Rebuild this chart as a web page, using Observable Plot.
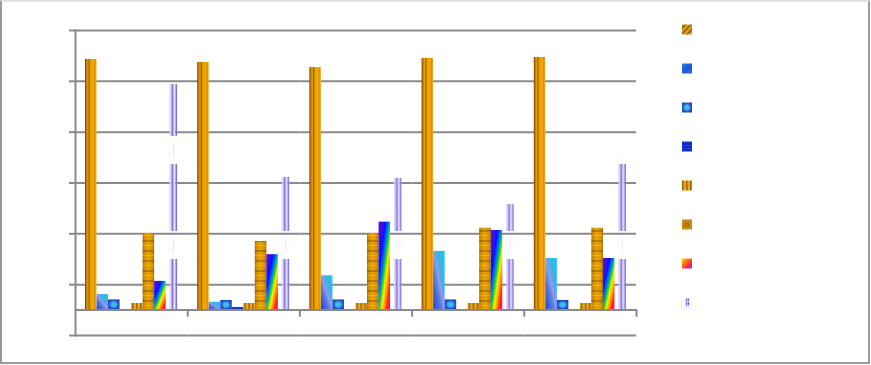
<!DOCTYPE html>
<html>
<head>
<meta charset="utf-8">
<script src="https://cdn.jsdelivr.net/npm/d3@7"></script>
<script src="https://cdn.jsdelivr.net/npm/@observablehq/plot@0.6"></script>
<style>
  html, body { margin: 0; padding: 0; background: #fff; }
  #wrap { position: relative; width: 871px; height: 365px; overflow: hidden; font-family: "Liberation Sans", Arial, sans-serif; }
  #border { position: absolute; left: 0; top: 0; width: 870px; height: 364px; box-sizing: border-box;
    border-left: 2px solid #9a9a9a; border-right: 2px solid #9a9a9a; border-bottom: 2px solid #9a9a9a; border-top: 2px solid #e2e2e2; }
  #chart { position: absolute; left: 0; top: 0; }
  #legend { position: absolute; left: 682px; top: 9.5px; }
  svg { overflow: visible; }
</style>
</head>
<body>
<svg width="0" height="0" style="position:absolute">
  <defs>
    <linearGradient id="p1" x1="0" y1="0" x2="1" y2="0">
      <stop offset="0" stop-color="#5a3800"/>
      <stop offset="0.1" stop-color="#b87400"/>
      <stop offset="0.25" stop-color="#ea9e00"/>
      <stop offset="0.36" stop-color="#9a6000"/>
      <stop offset="0.48" stop-color="#e8a000"/>
      <stop offset="0.72" stop-color="#f2aa08"/>
      <stop offset="0.86" stop-color="#d89000"/>
      <stop offset="1" stop-color="#f6b434"/>
    </linearGradient>
    <linearGradient id="p2" x1="1" y1="0" x2="0" y2="1">
      <stop offset="0" stop-color="#18c8e8"/>
      <stop offset="0.35" stop-color="#40b0e8"/>
      <stop offset="0.5" stop-color="#8c9cec"/>
      <stop offset="0.65" stop-color="#5a78e0"/>
      <stop offset="1" stop-color="#1846d8"/>
    </linearGradient>
    <radialGradient id="p3" cx="0.5" cy="0.5" r="0.6">
      <stop offset="0" stop-color="#48c4ea"/>
      <stop offset="0.45" stop-color="#3aa8e4"/>
      <stop offset="0.56" stop-color="#2a62d4"/>
      <stop offset="1" stop-color="#1c44b8"/>
    </radialGradient>
    <linearGradient id="p4" x1="0" y1="0" x2="0" y2="1">
      <stop offset="0" stop-color="#0a2ad0"/>
      <stop offset="0.5" stop-color="#2040d8"/>
      <stop offset="1" stop-color="#0018b0"/>
    </linearGradient>
    <pattern id="p5" width="4" height="4" patternUnits="userSpaceOnUse">
      <rect width="4" height="4" fill="#e6a628"/>
      <rect x="0" width="1.6" height="4" fill="#a86800"/>
    </pattern>
    <linearGradient id="p6" x1="0" y1="0" x2="1" y2="0">
      <stop offset="0" stop-color="#a86c00"/>
      <stop offset="0.18" stop-color="#d89400"/>
      <stop offset="0.5" stop-color="#eaa400"/>
      <stop offset="0.82" stop-color="#d89400"/>
      <stop offset="1" stop-color="#a86c00"/>
    </linearGradient>
    <pattern id="p6s" width="40" height="10" patternUnits="userSpaceOnUse">
      <rect y="0" width="40" height="2" fill="rgba(125,78,0,0.45)"/>
      <rect y="5" width="40" height="1" fill="rgba(255,210,90,0.3)"/>
    </pattern>
    <linearGradient id="p7" x1="0" y1="0" x2="1" y2="1">
      <stop offset="0" stop-color="#8000b0"/>
      <stop offset="0.14" stop-color="#4010e8"/>
      <stop offset="0.3" stop-color="#0a10ff"/>
      <stop offset="0.42" stop-color="#0070f0"/>
      <stop offset="0.5" stop-color="#00c070"/>
      <stop offset="0.57" stop-color="#80e000"/>
      <stop offset="0.63" stop-color="#f8f000"/>
      <stop offset="0.73" stop-color="#ffa000"/>
      <stop offset="0.85" stop-color="#ff2a10"/>
      <stop offset="1" stop-color="#ff0090"/>
    </linearGradient>
    <!-- series 8: lavender lines, period 95 with a gap from 41 to 69 -->
    <pattern id="p8" width="4" height="95" patternUnits="userSpaceOnUse">
      <rect x="0" y="0" width="1" height="41" fill="#7f70e4"/>
      <rect x="1" y="0" width="1" height="41" fill="#c4bcf2"/>
      <rect x="2" y="0" width="1" height="41" fill="#e4e0f8"/>
      <rect x="3" y="0" width="1" height="41" fill="#9a8ee8" fill-opacity="0.7"/>
      <rect x="0" y="69" width="1" height="26" fill="#7f70e4"/>
      <rect x="1" y="69" width="1" height="26" fill="#c4bcf2"/>
      <rect x="2" y="69" width="1" height="26" fill="#e4e0f8"/>
      <rect x="3" y="69" width="1" height="26" fill="#9a8ee8" fill-opacity="0.7"/>
      <rect x="1" y="48" width="1" height="14" fill="#dcd6f6" fill-opacity="0.6"/>
    </pattern>
    <pattern id="lg1" width="4" height="4" patternUnits="userSpaceOnUse" patternTransform="rotate(45)">
      <rect width="4" height="4" fill="#e0a020"/>
      <rect width="1.5" height="4" fill="#8a5a00"/>
    </pattern>
    <linearGradient id="lg2" x1="0" y1="0" x2="1" y2="1">
      <stop offset="0" stop-color="#3a80e0"/>
      <stop offset="0.5" stop-color="#1c58d6"/>
      <stop offset="1" stop-color="#2a6ee0"/>
    </linearGradient>
    <pattern id="lg4" width="10" height="3.4" patternUnits="userSpaceOnUse">
      <rect width="10" height="3.4" fill="#0a26c4"/>
      <rect y="2.4" width="10" height="0.8" fill="#3050e0"/>
    </pattern>
    <pattern id="lg6" width="1" height="1" patternContentUnits="objectBoundingBox">
      <rect width="1" height="1" fill="#c88a10"/>
      <rect x="0.28" y="0.28" width="0.44" height="0.44" fill="#a06600"/>
      <rect x="0.4" y="0.4" width="0.2" height="0.2" fill="#c28410"/>
    </pattern>
    <linearGradient id="lg7" x1="0" y1="0" x2="1" y2="1">
      <stop offset="0" stop-color="#ffe000"/>
      <stop offset="0.4" stop-color="#ff6a10"/>
      <stop offset="0.7" stop-color="#f02868"/>
      <stop offset="1" stop-color="#c020c0"/>
    </linearGradient>
    <pattern id="lg8" width="2" height="4" patternUnits="userSpaceOnUse">
      <rect width="1" height="3" fill="#6a58e0"/>
      <rect x="1" width="1" height="4" fill="#c8c0f4"/>
    </pattern>
  </defs>
</svg>
<div id="wrap">
  <div id="border"></div>
  <div id="chart"></div>
  <div id="legend"></div>
</div>
<script>
// ---- data ----
const categories = ["Cat 1", "Cat 2", "Cat 3", "Cat 4", "Cat 5"];
const seriesNames = ["Series 1", "Series 2", "Series 3", "Series 4", "Series 5", "Series 6", "Series 7", "Series 8"];
const series1 = [98.6, 97.4, 95.4, 99.0, 99.4];
const series2 = [6.1, 3.1, 13.5, 23.1, 20.3];
const series3 = [4.0, 3.8, 4.0, 4.0, 3.8];
const series4 = [0, 1.0, 0, 0, 0];
const series5 = [2.6, 2.6, 2.6, 2.6, 2.6];
const series6 = [30.0, 27.0, 30.0, 32.2, 32.2];
const series7 = [11.3, 21.8, 34.6, 31.3, 20.3];
const series8 = [88.7, 52.2, 51.8, 41.5, 60.8];
const yTicks = [-10, 10, 30, 50, 70, 90, 110];

const allValues = [series1, series2, series3, series4, series5, series6, series7, series8];
const rows = categories.flatMap((c, i) => seriesNames.map((s, j) => ({cat: c, series: s, value: allValues[j][i]})));

const fills = ["url(#p1)", "url(#p2)", "url(#p3)", "url(#p4)", "url(#p5)", "url(#p6)", "url(#p7)", "url(#p8)"];
const legendFills = ["url(#lg1)", "url(#lg2)", "url(#p3)", "url(#lg4)", "url(#p5)", "url(#lg6)", "url(#lg7)", "url(#lg8)"];
const axisColor = "#8a8a8a";

const barMarks = [];
seriesNames.forEach((s, j) => {
  const d = rows.filter(r => r.series === s);
  const opts = {fx: "cat", x: "series", y: "value", fill: fills[j]};
  if (j === 7) opts.insetLeft = 4;
  barMarks.push(Plot.barY(d, opts));
  if (j === 5) barMarks.push(Plot.barY(d, {fx: "cat", x: "series", y: "value", fill: "url(#p6s)"}));
});

const chart = Plot.plot({
  width: 871,
  height: 365,
  marginLeft: 75,
  marginRight: 235,
  marginTop: 30,
  marginBottom: 30,
  style: {background: "transparent", overflow: "visible"},
  fx: {domain: categories, padding: 0, round: false, axis: null},
  x: {domain: seriesNames, paddingInner: 0, paddingOuter: 0.87, round: false, axis: null},
  y: {domain: [-10, 110]},
  marks: [
    Plot.gridY(yTicks, {stroke: axisColor, strokeOpacity: 1, strokeWidth: 2}),
    Plot.axisY(yTicks, {tickSize: 6, tickFormat: () => "", label: null, stroke: axisColor, strokeWidth: 2}),
    ...barMarks,
    Plot.ruleY([0], {stroke: axisColor, strokeWidth: 2}),
    Plot.vector(categories, {
      fx: d => d, y: () => 0, frameAnchor: "right", length: 6, rotate: 180, anchor: "start",
      shape: {draw(context, l) { context.moveTo(0, 0); context.lineTo(0, -l); }},
      stroke: axisColor, strokeWidth: 2
    }),
    Plot.frame({anchor: "left", facetAnchor: "left", stroke: axisColor, strokeWidth: 2})
  ]
});
document.getElementById("chart").appendChild(chart);

const legend = Plot.plot({
  width: 10,
  height: 312,
  margin: 0,
  style: {background: "transparent", overflow: "visible"},
  x: {domain: ["k"], padding: 0, axis: null},
  y: {domain: seriesNames, padding: 0, axis: null},
  marks: seriesNames.map((s, j) => Plot.cell([s], {
    x: () => "k", y: d => d, fill: legendFills[j],
    insetTop: j === 7 ? 15.5 : 14.5, insetBottom: j === 7 ? 15.5 : 14.5,
    insetLeft: j === 7 ? 3.5 : 0, insetRight: j === 7 ? 2.5 : 0
  }))
});
document.getElementById("legend").appendChild(legend);
</script>
</body>
</html>
